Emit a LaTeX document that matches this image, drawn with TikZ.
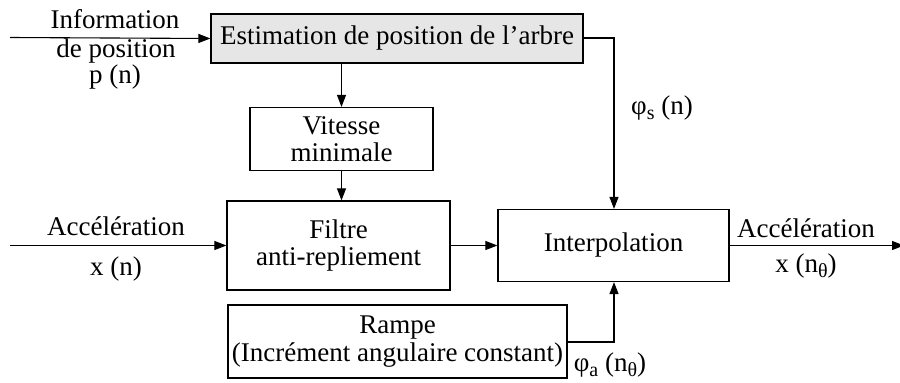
\documentclass[tikz,border=0pt]{standalone}
\usepackage{fontspec}
\setmainfont{Liberation Serif}
\usetikzlibrary{arrows.meta}
\newcommand{\mysub}[1]{\raisebox{-5pt}{\fontsize{20}{20}\selectfont #1}}
\begin{document}
\begin{tikzpicture}[x=1pt,y=-1pt,
  font=\fontsize{27}{27.5}\selectfont,
  box/.style={draw, line width=1.2pt, inner sep=0pt, align=center},
  conn/.style={line width=1.1pt, -{Triangle[length=12pt,width=9pt]}},
  lbl/.style={inner sep=0pt, anchor=base}]
\useasboundingbox (0,0) rectangle (900,383);
% boxes
\node[box, fill={rgb,255:red,230;green,230;blue,230}, minimum width=372pt, minimum height=49pt] (est) at (397,38.5) {Estimation de position de l’arbre};
\node[box, minimum width=183pt, minimum height=63pt] (vit) at (341.5,139) {Vitesse\\minimale};
\node[box, minimum width=223pt, minimum height=89pt] (fil) at (338.5,245.5) {Filtre\\anti-repliement};
\node[box, minimum width=231pt, minimum height=72pt] (int) at (613.5,245.5) {Interpolation};
\node[box, minimum width=339pt, minimum height=73pt] (ram) at (397.5,341.5) {Rampe\\(Incrément angulaire constant)};
% coordinates
\coordinate (inpos) at (10,37.5);
\coordinate (inacc) at (10,245.5);
\coordinate (out) at (904,245.5);
\coordinate (c1) at (614,38);
\coordinate (c2) at (614,342);
% connectors
\draw[conn] (inpos) -- (est.west);
\draw[conn] (est.south -| vit.north) -- (vit.north);
\draw[conn] (vit.south) -- (vit.south |- fil.north);
\draw[conn] (inacc) -- (fil.west);
\draw[conn] (fil.east) -- (int.west);
\draw[conn] (int.east) -- (out);
\draw[conn] (est.east |- c1) -- (c1) -- (int.north -| c1);
\draw[conn] (ram.east |- c2) -- (c2) -- (int.south -| c2);
% labels
\node[lbl] (l1) at (115,28) {Information};
\node[lbl] (l2) at (116,57.5) {de position};
\node[lbl] (l3) at (115,83.5) {p (n)};
\node[lbl] (l4) at (116,235) {Accélération};
\node[lbl] (l5) at (116,275) {x (n)};
\node[lbl] (l6) at (806,237) {Accélération};
\node[lbl] (l7) at (806,272) {x (n\mysub{θ})};
\node[lbl] (l8) at (662,114) {φ\mysub{s} (n)};
\node[lbl] (l9) at (610,371) {φ\mysub{a} (n\mysub{θ})};
\end{tikzpicture}
\end{document}
